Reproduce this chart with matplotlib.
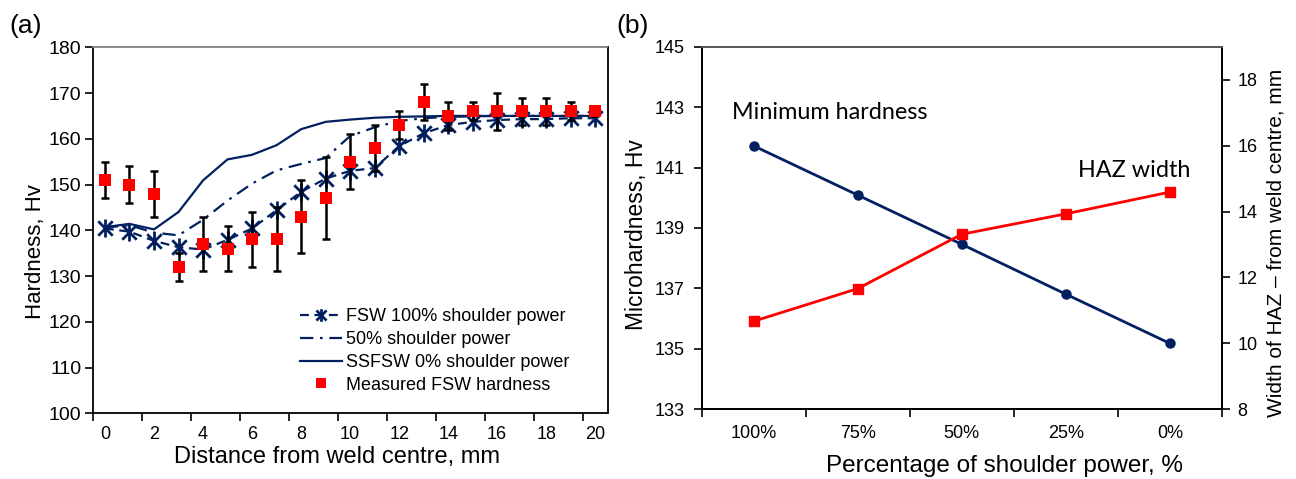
import matplotlib
matplotlib.use("Agg")
import matplotlib.pyplot as plt
from matplotlib.path import Path
import numpy as np

# ---------------- data ----------------
distance = list(range(21))
xtick_labels_a = [str(v) for v in range(0, 21, 2)]
fsw_100 = [140.4, 139.7, 137.7, 136.3, 135.8, 137.9, 140.4, 144.4, 148.4, 151.3, 153.0,
           153.6, 158.4, 161.2, 163.0, 163.7, 164.1, 164.3, 164.3, 164.5, 164.5]
shoulder_50 = [140.6, 141.1, 139.5, 138.9, 142.3, 146.5, 150.2, 153.1, 154.5, 155.8, 160.6,
               162.5, 163.9, 164.5, 164.8, 164.9, 165.0, 165.0, 165.0, 165.0, 165.0]
ssfsw_0 = [140.7, 141.4, 140.2, 144.0, 150.9, 155.5, 156.5, 158.6, 162.1, 163.7, 164.2,
           164.6, 164.8, 164.9, 165.0, 165.0, 165.0, 165.0, 165.0, 165.0, 165.0]
measured = [151, 150, 148, 132, 137, 136, 138, 138, 143, 147, 155,
            158, 163, 168, 165, 166, 166, 166, 166, 166, 166]
measured_err = [4, 4, 5, 3, 6, 5, 6, 7, 8, 9, 6, 5, 3, 4, 3, 2, 4, 3, 3, 2, 1]

power_cats = ["100%", "75%", "50%", "25%", "0%"]
min_hardness = [141.72, 140.09, 138.46, 136.81, 135.18]
haz_width = [10.67, 11.66, 13.31, 13.93, 14.59]

# ---------------- style ----------------
NAVY = "#002060"
RED = "#ff0000"
ARIAL = ["Liberation Sans", "DejaVu Sans"]
CALIBRI = ["Lato", "DejaVu Sans"]
plt.rcParams["font.family"] = ARIAL

W, H = 1296, 479
fig = plt.figure(figsize=(W / 100, H / 100), dpi=100)


def px_axes(l, t, r, b):
    return fig.add_axes([l / W, 1 - b / H, (r - l) / W, (b - t) / H])


star = Path([(-0.8, -0.8), (0.8, 0.8), (-0.8, 0.8), (0.8, -0.8), (0, -1.0), (0, 1.0)],
            [Path.MOVETO, Path.LINETO] * 3)

# ---------------- panel (a) ----------------
ax = px_axes(92.7, 47.3, 607.5, 413.3)
x = np.array(distance)
l1, = ax.plot(x, fsw_100, color=NAVY, lw=1.6, ls=(0, (4, 2.5)), marker=star,
              markersize=13, markeredgewidth=2.0, markeredgecolor=NAVY,
              label="FSW 100% shoulder power", zorder=2)
l2, = ax.plot(x, shoulder_50, color=NAVY, lw=1.6, ls=(0, (6, 3, 1.2, 3)),
              label="50% shoulder power", zorder=2)
l3, = ax.plot(x, ssfsw_0, color=NAVY, lw=1.6, ls="-",
              label="SSFSW 0% shoulder power", zorder=2)
ax.errorbar(x, measured, yerr=measured_err, fmt="none", ecolor="black",
            elinewidth=1.8, capsize=3.2, capthick=1.8, zorder=3)
l4, = ax.plot(x, measured, ls="none", marker="s", color=RED, markersize=9.3,
              markeredgewidth=0, label="Measured FSW hardness", zorder=4)

ax.set_xlim(-0.5, 20.5)
ax.set_ylim(100, 180)
ax.set_yticks(np.arange(100, 181, 10))
ax.set_xticks(np.arange(-0.5, 20, 2))
ax.set_xticklabels([])
ax.set_xticks(np.arange(0, 21, 2), minor=True)
ax.set_xticklabels(xtick_labels_a, minor=True)
ax.tick_params(axis="x", which="major", length=6, width=1.2, direction="out")
ax.tick_params(axis="x", which="minor", length=0, pad=9, labelsize=13)
ax.tick_params(axis="y", length=6, width=1.2, direction="out", pad=2, labelsize=14)
for s in ["left", "bottom", "right"]:
    ax.spines[s].set_linewidth(1.3)
    ax.spines[s].set_color("black")
ax.spines["top"].set_color("#808080")
ax.spines["top"].set_linewidth(1.3)

leg = fig.legend(handles=[l1, l2, l3, l4], loc="center left",
                 bbox_to_anchor=(300 / W, 1 - 351 / H), bbox_transform=fig.transFigure,
                 frameon=False, fontsize=13, handlelength=2.3, handletextpad=0.25,
                 labelspacing=0.32, borderpad=0, borderaxespad=0, markerscale=0.7)

fig.text(26 / W, 1 - 26 / H, "(a)", fontsize=19, ha="center", va="center")
fig.text(35 / W, 1 - 252 / H, "Hardness, Hv", fontsize=16, rotation=90,
         ha="center", va="center")
fig.text(337 / W, 1 - 457 / H, "Distance from weld centre, mm", fontsize=17,
         ha="center", va="center")

# ---------------- panel (b) ----------------
bx = px_axes(701.5, 46.7, 1222, 409.3)
xc = np.arange(len(power_cats))
bx.plot(xc, min_hardness, color=NAVY, lw=2.0, marker="o", markersize=6.5, zorder=2)
bx.set_xlim(-0.5, 4.5)
bx.set_ylim(133, 145)
bx.set_yticks(np.arange(133, 146, 2))
bx.set_xticks(np.arange(-0.5, 4.6, 1))
bx.set_xticklabels([])
bx.set_xticks(xc, minor=True)
bx.set_xticklabels(power_cats, minor=True)
bx.tick_params(axis="x", which="major", length=6, width=1.2, direction="out")
bx.tick_params(axis="x", which="minor", length=0, pad=11, labelsize=13)
bx.tick_params(axis="y", length=6, width=1.2, direction="out", pad=6, labelsize=13)

bx2 = bx.twinx()
bx2.plot(xc, haz_width, color=RED, lw=2.0, marker="s", markersize=6.5, zorder=3)
bx2.set_ylim(8, 19)
bx2.set_yticks(np.arange(8, 19, 2))
bx2.tick_params(axis="y", length=6, width=1.2, direction="out", pad=5, labelsize=13)

for a in (bx, bx2):
    for s in ["left", "bottom", "right"]:
        a.spines[s].set_linewidth(1.3)
        a.spines[s].set_color("black")
    a.spines["top"].set_color("#595959")
    a.spines["top"].set_linewidth(1.3)

fig.text(633 / W, 1 - 26 / H, "(b)", fontsize=19, ha="center", va="center")
fig.text(637 / W, 1 - 235 / H, "Microhardness, Hv", fontsize=16.5, rotation=90,
         ha="center", va="center")
fig.text(1276 / W, 1 - 243 / H, "Width of HAZ \u2013 from weld centre, mm", fontsize=15,
         rotation=90, ha="center", va="center")
fig.text(1005 / W, 1 - 466 / H, "Percentage of shoulder power, %", fontsize=17.5,
         ha="center", va="center")
fig.text(731.7 / W, 1 - 112.5 / H, "Minimum hardness", fontsize=16.8,
         family=CALIBRI, ha="left", va="center")
fig.text(1078 / W, 1 - 170.5 / H, "HAZ width", fontsize=16.8,
         family=CALIBRI, ha="left", va="center")

fig.savefig("out.png", dpi=100)
